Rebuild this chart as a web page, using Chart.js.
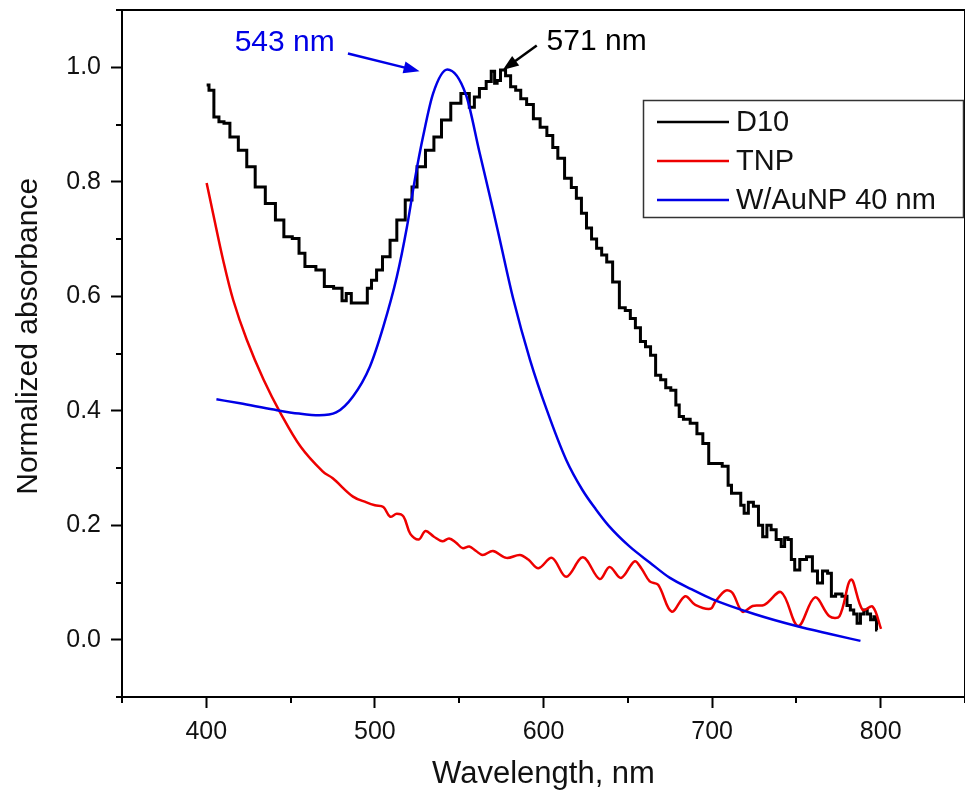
<!DOCTYPE html>
<html>
<head>
<meta charset="utf-8">
<script src="https://cdn.jsdelivr.net/npm/chart.js@4.4.0/dist/chart.umd.min.js"></script>
<style>
  html, body { margin: 0; padding: 0; background: #fff; }
</style>
</head>
<body>
<canvas id="graphicAbs" width="965" height="796"></canvas>
<script>
// ---- dados ----
const d10Nm = [400.2, 403, 406, 409, 412, 416, 422, 426, 432, 438, 444, 448, 454, 456, 461, 469, 471, 480, 481, 485, 487, 495, 496, 500, 502, 507, 511, 515, 521, 523, 527, 533, 537, 542, 548, 554, 558, 560, 564, 568, 570, 572, 573, 576, 579, 582, 585, 588, 592, 596, 600, 604, 607, 610, 615, 618, 621, 624, 627, 630, 633, 636, 639, 643, 647, 650, 653, 656, 659, 662, 665, 668, 671, 674, 677, 680, 681, 685, 689, 693, 696, 700, 704, 708, 711, 712, 716, 718, 720, 723, 726, 729, 731, 734, 736, 740, 742, 744, 746, 748, 750, 754, 758, 761, 764, 767, 770, 771.5, 775, 779, 781, 783, 785, 787, 789, 791, 793, 795, 797, 798];
const d10Abs = [0.969, 0.96, 0.913, 0.905, 0.902, 0.878, 0.855, 0.826, 0.791, 0.762, 0.733, 0.704, 0.701, 0.675, 0.652, 0.646, 0.617, 0.614, 0.592, 0.605, 0.588, 0.588, 0.614, 0.628, 0.646, 0.669, 0.698, 0.733, 0.768, 0.791, 0.826, 0.855, 0.878, 0.908, 0.937, 0.954, 0.93, 0.948, 0.963, 0.975, 0.993, 0.972, 0.977, 0.995, 0.985, 0.966, 0.96, 0.945, 0.935, 0.91, 0.895, 0.881, 0.86, 0.841, 0.806, 0.79, 0.771, 0.745, 0.719, 0.7, 0.684, 0.672, 0.66, 0.625, 0.58, 0.575, 0.561, 0.545, 0.521, 0.512, 0.497, 0.462, 0.454, 0.44, 0.436, 0.41, 0.39, 0.385, 0.378, 0.36, 0.343, 0.308, 0.308, 0.303, 0.27, 0.256, 0.256, 0.235, 0.221, 0.24, 0.233, 0.2, 0.18, 0.2, 0.192, 0.175, 0.163, 0.178, 0.175, 0.14, 0.122, 0.14, 0.145, 0.12, 0.099, 0.12, 0.116, 0.076, 0.08, 0.076, 0.06, 0.052, 0.045, 0.029, 0.045, 0.052, 0.045, 0.035, 0.04, 0.017];

const tnpNm = [400.2, 404, 410, 416, 424, 434, 444, 456, 469, 475, 487, 495, 500, 505, 509, 513, 517, 521, 526, 530, 535, 540, 544, 548, 552, 556, 560, 564, 570, 578, 586, 591, 597, 605, 613.5, 623.4, 633.3, 639.2, 646, 654, 658, 663, 668, 676, 684, 690, 699, 702, 708, 712, 718, 724, 731, 741, 751, 761, 769.6, 775.5, 782.4, 789.3, 795.2, 800.2];
const tnpAbs = [0.798, 0.745, 0.663, 0.593, 0.524, 0.454, 0.396, 0.337, 0.294, 0.282, 0.25, 0.24, 0.235, 0.232, 0.215, 0.22, 0.215, 0.185, 0.175, 0.19, 0.18, 0.172, 0.177, 0.17, 0.16, 0.163, 0.155, 0.148, 0.155, 0.143, 0.148, 0.14, 0.125, 0.143, 0.11, 0.144, 0.106, 0.127, 0.108, 0.137, 0.125, 0.102, 0.096, 0.049, 0.076, 0.061, 0.054, 0.067, 0.086, 0.082, 0.049, 0.059, 0.061, 0.083, 0.024, 0.074, 0.041, 0.041, 0.105, 0.052, 0.058, 0.019];

const auNm = [406, 420, 440, 455, 467, 477, 487, 497, 505, 513, 519, 524, 528.5, 534.5, 543, 554, 562, 570, 574, 582, 592, 602, 613.5, 623, 631, 639, 651, 663, 675, 688, 700, 725, 750, 770, 788];
const auAbs = [0.42, 0.413, 0.402, 0.395, 0.392, 0.397, 0.425, 0.477, 0.547, 0.634, 0.721, 0.809, 0.878, 0.954, 0.996, 0.952, 0.852, 0.752, 0.70, 0.596, 0.489, 0.401, 0.314, 0.262, 0.228, 0.198, 0.163, 0.135, 0.108, 0.088, 0.071, 0.045, 0.024, 0.01, -0.002];

const seriesLabels = ["D10", "TNP", "W/AuNP 40 nm"];
const seriesColors = ["#000000", "#ee0000", "#0000e6"];

const xTicks = [400, 500, 600, 700, 800];
const xMinor = [350, 450, 550, 650, 750, 850];
const yTicks = [0, 0.2, 0.4, 0.6, 0.8, 1.0];
const yMinor = [-0.1, 0.1, 0.3, 0.5, 0.7, 0.9, 1.1];

const yTitle = "Normalized absorbance";

// anotações: texto, posição do texto, início e fim da seta (em unidades dos eixos)
const notas = [
  { text: "543 nm", color: "#0000e6", tx: 446.5, ty: 1.042, x0: 484, y0: 1.024, x1: 526.5, y1: 0.993 },
  { text: "571 nm", color: "#000000", tx: 631.5, ty: 1.044, x0: 596, y0: 1.038, x1: 575.8, y1: 0.995 }
];

const pontos = (xs, ys) => xs.map((x, i) => ({ x: x, y: ys[i] }));

const fonte = "'Liberation Sans', Arial, sans-serif";

// moldura, ticks menores, título do eixo y, legenda e setas
const extras = {
  id: "extras",
  afterDraw(chart) {
    const { ctx, chartArea: a, scales } = chart;
    ctx.save();
    ctx.strokeStyle = "#000";
    ctx.lineWidth = 2;
    ctx.beginPath();
    ctx.moveTo(a.left, a.top);
    ctx.lineTo(a.right, a.top);
    ctx.lineTo(a.right, a.bottom);
    ctx.stroke();

    ctx.beginPath();
    xMinor.forEach(v => {
      const px = Math.round(scales.x.getPixelForValue(v));
      ctx.moveTo(px, a.bottom);
      ctx.lineTo(px, a.bottom + 6);
    });
    yMinor.forEach(v => {
      const py = Math.round(scales.y.getPixelForValue(v));
      ctx.moveTo(a.left, py);
      ctx.lineTo(a.left - 6, py);
    });
    ctx.stroke();

    // título do eixo y (um pouco acima do centro, como no original)
    ctx.save();
    ctx.translate(29, scales.y.getPixelForValue(0.53));
    ctx.rotate(-Math.PI / 2);
    ctx.font = "30px " + fonte;
    ctx.fillStyle = "#111";
    ctx.textAlign = "center";
    ctx.textBaseline = "middle";
    ctx.fillText(yTitle, 0, 0);
    ctx.restore();

    // legenda
    ctx.fillStyle = "#fff";
    ctx.fillRect(643, 100, 320, 117);
    ctx.lineWidth = 1.5;
    ctx.strokeStyle = "#333";
    ctx.strokeRect(643.5, 100.5, 320, 117);
    ctx.font = "29px " + fonte;
    ctx.textBaseline = "middle";
    ctx.textAlign = "left";
    const rows = [122, 161, 200];
    chart.data.datasets.forEach((ds, i) => {
      ctx.strokeStyle = ds.borderColor;
      ctx.lineWidth = 2.5;
      ctx.beginPath();
      ctx.moveTo(657, rows[i]);
      ctx.lineTo(729, rows[i]);
      ctx.stroke();
      ctx.fillStyle = "#111";
      ctx.fillText(ds.label, 736, rows[i] + 1);
    });

    // setas
    notas.forEach(n => {
      const x0 = scales.x.getPixelForValue(n.x0), y0 = scales.y.getPixelForValue(n.y0);
      const x1 = scales.x.getPixelForValue(n.x1), y1 = scales.y.getPixelForValue(n.y1);
      const ang = Math.atan2(y1 - y0, x1 - x0);
      ctx.strokeStyle = n.color;
      ctx.fillStyle = n.color;
      ctx.lineWidth = 2.5;
      ctx.beginPath();
      ctx.moveTo(x0, y0);
      ctx.lineTo(x1 - 10 * Math.cos(ang), y1 - 10 * Math.sin(ang));
      ctx.stroke();
      ctx.beginPath();
      ctx.moveTo(x1, y1);
      ctx.lineTo(x1 - 16 * Math.cos(ang) + 6 * Math.sin(ang), y1 - 16 * Math.sin(ang) - 6 * Math.cos(ang));
      ctx.lineTo(x1 - 16 * Math.cos(ang) - 6 * Math.sin(ang), y1 - 16 * Math.sin(ang) + 6 * Math.cos(ang));
      ctx.closePath();
      ctx.fill();
      ctx.font = "30px " + fonte;
      ctx.textAlign = "center";
      ctx.fillText(n.text, scales.x.getPixelForValue(n.tx), scales.y.getPixelForValue(n.ty));
    });
    ctx.restore();
  }
};

const config = {
  type: "line",
  data: {
    datasets: [
      {
        label: seriesLabels[0],
        data: pontos(d10Nm, d10Abs),
        borderColor: seriesColors[0],
        borderWidth: 3,
        stepped: "middle",
        pointRadius: 0,
        order: 3
      },
      {
        label: seriesLabels[1],
        data: pontos(tnpNm, tnpAbs),
        borderColor: seriesColors[1],
        borderWidth: 2.5,
        tension: 0.35,
        pointRadius: 0,
        order: 2
      },
      {
        label: seriesLabels[2],
        data: pontos(auNm, auAbs),
        borderColor: seriesColors[2],
        borderWidth: 2.5,
        cubicInterpolationMode: "monotone",
        pointRadius: 0,
        order: 1
      }
    ]
  },
  options: {
    responsive: false,
    animation: false,
    devicePixelRatio: 1,
    layout: { padding: { top: 10, right: 0, left: 0, bottom: 0 } },
    plugins: {
      legend: { display: false },
      tooltip: { enabled: false }
    },
    scales: {
      x: {
        type: "linear",
        min: 350,
        max: 850,
        afterBuildTicks: s => { s.ticks = xTicks.map(v => ({ value: v })); },
        afterFit: s => { s.height = 99; s.paddingLeft = 0; s.paddingRight = 0; },
        border: { color: "#000", width: 2 },
        grid: { drawOnChartArea: false, tickLength: 11, tickColor: "#000", tickWidth: 2 },
        ticks: { color: "#111", font: { family: fonte, size: 25 }, padding: 9 },
        title: {
          display: true,
          text: "Wavelength, nm",
          color: "#111",
          font: { family: fonte, size: 31 },
          padding: { top: 0, bottom: 3 }
        }
      },
      y: {
        type: "linear",
        min: -0.1,
        max: 1.1,
        afterBuildTicks: s => { s.ticks = yTicks.map(v => ({ value: v })); },
        afterFit: s => { s.width = 122; s.paddingTop = 0; s.paddingBottom = 0; },
        border: { color: "#000", width: 2 },
        grid: { drawOnChartArea: false, tickLength: 11, tickColor: "#000", tickWidth: 2 },
        ticks: {
          color: "#111",
          font: { family: fonte, size: 25 },
          padding: 10,
          callback: v => v.toFixed(1)
        },
        title: { display: false }
      }
    }
  },
  plugins: [extras]
};

const graphicAbs = document.getElementById("graphicAbs");
const grafico = new Chart(graphicAbs, config);
</script>
</body>
</html>
